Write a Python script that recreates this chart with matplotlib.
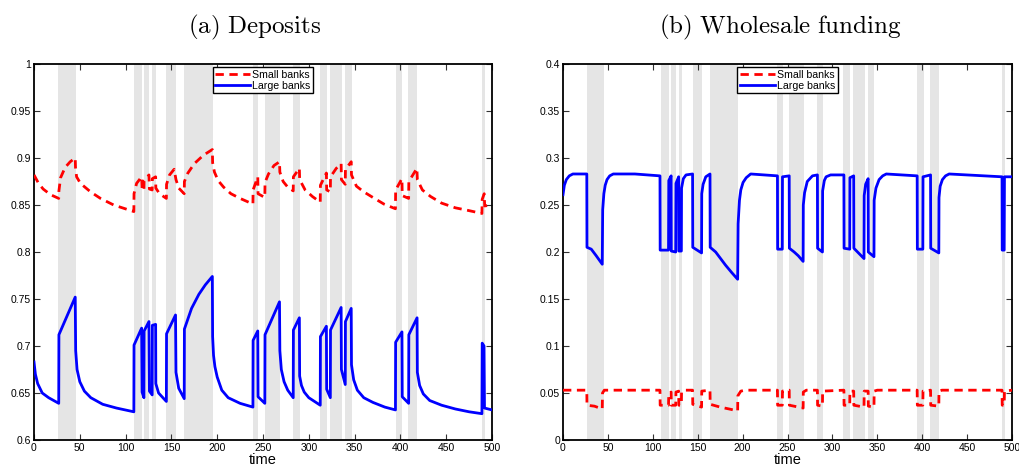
import matplotlib
matplotlib.use("Agg")
import matplotlib.pyplot as plt

# ---------------- data ----------------
crisis_start = [26.5, 108.8, 120.2, 129.3, 144.3, 163.8, 238.8, 251.8, 283.0, 312.3, 323.3, 339.6, 394.7, 408.8, 488.8]
crisis_end   = [46.0, 118.0, 126.0, 133.0, 155.0, 195.0, 244.6, 268.4, 290.0, 319.6, 335.8, 346.8, 401.6, 418.6, 492.3]

# Deposits, large banks
dep_large_t = [0, 1.5, 4, 9, 16, 27,
               27.2, 45,
               45.5, 47, 50, 55, 62, 75, 90, 109,
               109.2, 117.5, 118, 120,
               120.2, 125.5, 126, 129,
               129.2, 132.8, 133, 136, 144.5,
               144.7, 154.5, 155, 158, 164,
               164.2, 172, 180, 187, 194.7,
               195, 196, 197.5, 200, 205, 212, 225, 239,
               239.2, 244.3, 244.6, 252,
               252.2, 268, 268.4, 270, 273, 277, 283,
               283.2, 289.7, 290, 292, 295, 300, 312.5,
               312.7, 319.2, 319.5, 323.5,
               323.7, 335.3, 335.6, 339.8,
               340, 346.3, 346.6, 349, 353, 360, 370, 383, 394.6,
               394.8, 401.7, 402, 409,
               409.2, 418.2, 418.5, 421, 425, 432, 445, 460, 475, 489,
               489.3, 491.3, 491.8, 500]
dep_large = [0.683, 0.670, 0.660, 0.650, 0.645, 0.639,
             0.712, 0.752,
             0.695, 0.675, 0.662, 0.652, 0.645, 0.638, 0.634, 0.630,
             0.701, 0.719, 0.651, 0.645,
             0.716, 0.726, 0.652, 0.648,
             0.722, 0.723, 0.660, 0.650, 0.641,
             0.713, 0.733, 0.672, 0.655, 0.644,
             0.718, 0.740, 0.755, 0.765, 0.774,
             0.710, 0.690, 0.678, 0.667, 0.653, 0.645, 0.639, 0.635,
             0.706, 0.716, 0.646, 0.639,
             0.712, 0.747, 0.695, 0.675, 0.662, 0.653, 0.645,
             0.717, 0.730, 0.668, 0.658, 0.651, 0.645, 0.637,
             0.710, 0.721, 0.654, 0.645,
             0.717, 0.741, 0.675, 0.659,
             0.726, 0.740, 0.680, 0.664, 0.653, 0.645, 0.640, 0.635, 0.632,
             0.704, 0.715, 0.646, 0.639,
             0.712, 0.730, 0.672, 0.658, 0.649, 0.642, 0.637, 0.633, 0.630, 0.628,
             0.703, 0.700, 0.634, 0.632]

# Deposits, small banks
dep_small_t = [0, 5, 10, 18, 27,
               27.2, 29, 34, 39.5, 45,
               45.3, 46.5, 50.7, 61.7, 72.6, 87, 109,
               109.2, 112, 117.5, 118, 120,
               120.2, 125.5, 126, 129,
               129.2, 132.8, 133, 137, 144.5,
               144.7, 148, 153, 155, 158, 164,
               164.2, 168, 175, 185, 194.7,
               195, 197, 201, 207, 215, 225, 239,
               239.2, 244.3, 244.6, 252,
               252.2, 256, 262, 268, 268.4, 272, 277, 283,
               283.2, 289.7, 290, 296, 304, 312.5,
               312.7, 319.2, 319.5, 323.5,
               323.7, 330, 335.3, 335.6, 339.8,
               340, 346.3, 346.6, 352, 360, 370, 382, 394.6,
               394.8, 401.7, 402, 409,
               409.2, 418, 418.5, 424, 433, 445, 460, 475, 489,
               489.3, 491.5, 492, 500]
dep_small = [0.882, 0.873, 0.867, 0.861, 0.857,
             0.865, 0.879, 0.890, 0.896, 0.900,
             0.890, 0.880, 0.873, 0.864, 0.857, 0.850, 0.843,
             0.862, 0.873, 0.880, 0.868, 0.865,
             0.876, 0.882, 0.867, 0.866,
             0.878, 0.880, 0.868, 0.862, 0.857,
             0.872, 0.882, 0.888, 0.877, 0.868, 0.862,
             0.875, 0.884, 0.894, 0.903, 0.909,
             0.895, 0.885, 0.876, 0.869, 0.862, 0.857, 0.851,
             0.866, 0.880, 0.862, 0.858,
             0.874, 0.883, 0.892, 0.896, 0.885, 0.875, 0.869, 0.865,
             0.880, 0.889, 0.877, 0.866, 0.859, 0.853,
             0.871, 0.884, 0.866, 0.864,
             0.880, 0.889, 0.894, 0.877, 0.872,
             0.888, 0.896, 0.882, 0.870, 0.864, 0.858, 0.851, 0.846,
             0.866, 0.878, 0.860, 0.857,
             0.875, 0.889, 0.877, 0.866, 0.859, 0.852, 0.847, 0.844, 0.841,
             0.856, 0.862, 0.849, 0.850]

# Wholesale funding, large banks
wf_large_t = [0, 1.5, 3.7, 7, 11, 26.5,
              26.7, 31.5, 37, 43.7,
              44.2, 45.5, 47, 49, 52, 56, 80, 108,
              108.2, 117.5, 117.8, 120.4,
              120.6, 125.5, 125.8, 128.8,
              129, 131.8, 132, 134, 137, 144.3,
              144.5, 154.3, 154.5, 156, 159, 163.7,
              163.9, 170, 181, 188, 194.5,
              195, 196.5, 198, 200.5, 204, 209, 238.8,
              239, 244.2, 244.4, 251.9,
              252.1, 257.4, 262, 267.4,
              267.6, 269, 272, 277.8, 283.3,
              283.5, 288.9, 289.1, 291, 293, 298, 312.8,
              313, 319.3, 319.5, 323.7,
              323.9, 335.2, 335.4, 337, 339.8,
              340, 346.3, 346.5, 348.5, 352, 356, 360, 394.4,
              394.6, 400.7, 400.9, 409.3,
              409.5, 418.5, 418.7, 420, 422.5, 426, 430, 488.9,
              489.1, 491.3, 491.6, 500]
wf_large = [0.261, 0.271, 0.277, 0.281, 0.283, 0.283,
            0.205, 0.203, 0.196, 0.187,
            0.245, 0.262, 0.271, 0.277, 0.281, 0.283, 0.283, 0.281,
            0.202, 0.202, 0.276, 0.281,
            0.201, 0.200, 0.273, 0.280,
            0.201, 0.201, 0.268, 0.278, 0.282, 0.283,
            0.205, 0.199, 0.262, 0.272, 0.280, 0.283,
            0.205, 0.200, 0.186, 0.178, 0.171,
            0.230, 0.255, 0.266, 0.274, 0.279, 0.283, 0.281,
            0.203, 0.203, 0.280, 0.281,
            0.204, 0.200, 0.196, 0.190,
            0.250, 0.263, 0.275, 0.281, 0.282,
            0.204, 0.200, 0.265, 0.276, 0.280, 0.282, 0.282,
            0.204, 0.203, 0.279, 0.281,
            0.204, 0.193, 0.260, 0.272, 0.278,
            0.200, 0.195, 0.255, 0.268, 0.277, 0.281, 0.283, 0.281,
            0.203, 0.203, 0.280, 0.282,
            0.204, 0.199, 0.258, 0.270, 0.277, 0.281, 0.283, 0.280,
            0.202, 0.202, 0.280, 0.280]

# Wholesale funding, small banks
wf_small_t = [0, 26.5,
              26.7, 35, 43.7,
              44, 46, 108,
              108.2, 117.5, 117.8, 120.4,
              120.6, 125.5, 125.8, 128.8,
              129, 131.8, 132, 135, 144.3,
              144.5, 154.3, 154.5, 163.7,
              163.9, 175, 185, 194.5,
              194.7, 198, 203, 238.8,
              239, 244.2, 244.4, 251.9,
              252.1, 267.4, 267.6, 271, 283.3,
              283.5, 288.9, 289.1, 312.8,
              313, 319.3, 319.5, 323.7,
              323.9, 335.2, 335.4, 339.8,
              340, 346.3, 346.5, 350, 394.4,
              394.6, 400.7, 400.9, 409.3,
              409.5, 418.5, 418.7, 422, 488.9,
              489.1, 491.3, 491.6, 500]
wf_small = [0.053, 0.053,
            0.037, 0.036, 0.033,
            0.050, 0.053, 0.053,
            0.037, 0.037, 0.050, 0.051,
            0.037, 0.037, 0.051, 0.052,
            0.037, 0.037, 0.051, 0.053, 0.053,
            0.038, 0.035, 0.052, 0.053,
            0.038, 0.035, 0.033, 0.031,
            0.047, 0.052, 0.053, 0.053,
            0.037, 0.037, 0.052, 0.053,
            0.037, 0.034, 0.051, 0.053, 0.053,
            0.037, 0.036, 0.052, 0.053,
            0.037, 0.037, 0.052, 0.052,
            0.037, 0.035, 0.052, 0.052,
            0.036, 0.035, 0.052, 0.053, 0.053,
            0.037, 0.037, 0.052, 0.053,
            0.037, 0.036, 0.052, 0.053, 0.053,
            0.037, 0.037, 0.052, 0.053]

titles = [r"$\mathrm{(a)\ Deposits}$", r"$\mathrm{(b)\ Wholesale\ funding}$"]
legend_labels = ["Small banks", "Large banks"]
x_ticks = [0, 50, 100, 150, 200, 250, 300, 350, 400, 450, 500]
dep_yticks = [0.6, 0.65, 0.7, 0.75, 0.8, 0.85, 0.9, 0.95, 1.0]
dep_ylabels = ["0.6", "0.65", "0.7", "0.75", "0.8", "0.85", "0.9", "0.95", "1"]
wf_yticks = [0, 0.05, 0.1, 0.15, 0.2, 0.25, 0.3, 0.35, 0.4]
wf_ylabels = ["0", "0.05", "0.1", "0.15", "0.2", "0.25", "0.3", "0.35", "0.4"]

# ---------------- plot ----------------
plt.rcParams['font.family'] = ['Liberation Sans', 'DejaVu Sans']
plt.rcParams['mathtext.fontset'] = 'cm'

fig = plt.figure(figsize=(10.2, 4.71), dpi=100)
ax1 = fig.add_axes([34/1020, 1-440/471, 458/1020, 376/471])
ax2 = fig.add_axes([563/1020, 1-440/471, 449/1020, 376/471])

panels = [
    (ax1, dep_small_t, dep_small, dep_large_t, dep_large, (0.6, 1.0), dep_yticks, dep_ylabels),
    (ax2, wf_small_t, wf_small, wf_large_t, wf_large, (0.0, 0.4), wf_yticks, wf_ylabels),
]

for ax, ts, ys, tl, yl, ylim, yt, ylab in panels:
    for s, e in zip(crisis_start, crisis_end):
        ax.axvspan(s, e, color='#e5e5e5', lw=0, zorder=0)
    ax.plot(ts, ys, color='#ff0000', lw=2.0, dashes=(3.0, 2.0), label=legend_labels[0], zorder=3)
    ax.plot(tl, yl, color='#0000ff', lw=2.0, label=legend_labels[1], zorder=3)
    ax.set_xlim(0, 500)
    ax.set_ylim(*ylim)
    ax.set_xticks(x_ticks)
    ax.set_xticklabels([str(v) for v in x_ticks])
    ax.set_yticks(yt)
    ax.set_yticklabels(ylab)
    ax.tick_params(direction='in', length=4, width=0.8, top=True, right=True,
                   labelsize=7.5, pad=2, color='#333333')
    for sp in ax.spines.values():
        sp.set_linewidth(1.3)
    ax.set_xlabel("time", fontsize=10.5, labelpad=0)
    leg = ax.legend(loc='upper center', bbox_to_anchor=(0.5, 0.992), fontsize=7.6,
                    handlelength=3.3, handletextpad=0.2, borderpad=0.25,
                    labelspacing=0.1, fancybox=False, framealpha=1,
                    edgecolor='black', borderaxespad=0)
    leg.get_frame().set_linewidth(1.0)

fig.text(255/1020, 1-27/471, titles[0], ha='center', va='center', fontsize=18)
fig.text(780/1020, 1-27/471, titles[1], ha='center', va='center', fontsize=18)

fig.savefig("out.png", dpi=100)
